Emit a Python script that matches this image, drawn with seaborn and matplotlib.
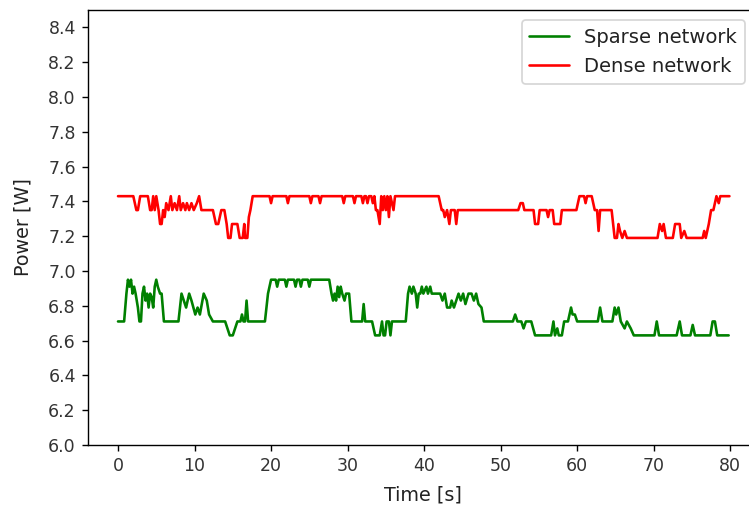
import matplotlib
matplotlib.use("Agg")
import matplotlib.pyplot as plt
import seaborn as sns
import pandas as pd

# ---- data (breakpoints) ----
dense_t = [0, 2.0, 2.4, 2.6, 2.9, 3.9, 4.2, 4.4, 4.6, 4.8, 5.0, 5.3, 5.5, 5.7, 5.9, 6.1, 6.3, 6.6,
           6.9, 7.1, 7.4, 7.7, 8.0, 8.2, 8.5, 8.8, 9.0, 9.3, 9.6, 9.9, 10.3, 10.6, 10.9, 12.4, 12.8,
           13.1, 13.5, 13.9, 14.2, 14.4, 14.7, 14.9, 15.6, 15.9, 16.3, 16.5, 16.6, 16.9, 17.1, 17.3,
           17.6, 19.8, 20.0, 20.2, 22.0, 22.2, 22.4, 25.0, 25.2, 25.4, 26.2, 26.4, 26.6, 29.3, 29.5,
           29.7, 30.7, 30.9, 31.1, 31.8, 32.0, 32.2, 32.4, 32.6, 32.8, 33.1, 33.3, 33.5, 33.7, 33.9,
           34.2, 34.4, 34.6, 34.8, 35.0, 35.2, 35.4, 35.6, 36.0, 36.2, 41.9, 42.3, 42.5, 42.7, 43.0,
           43.3, 43.5, 44.0, 44.2, 44.4, 52.3, 52.6, 52.9, 53.1, 54.3, 54.5, 54.9, 55.1, 56.0, 56.2,
           56.4, 56.8, 57.0, 57.8, 58.0, 59.9, 60.3, 60.9, 61.1, 61.3, 61.9, 62.1, 62.3, 62.6, 62.8,
           63.0, 64.5, 64.9, 65.2, 65.4, 65.6, 65.9, 66.2, 66.5, 70.5, 70.8, 71.1, 71.3, 71.6, 72.5,
           72.8, 73.4, 73.6, 74.0, 74.3, 76.4, 76.6, 76.8, 77.2, 77.5, 77.8, 78.2, 78.5, 78.7, 79.9]
dense_w = [7.43, 7.43, 7.35, 7.35, 7.43, 7.43, 7.35, 7.35, 7.43, 7.35, 7.43, 7.35, 7.27, 7.27, 7.35,
           7.31, 7.39, 7.35, 7.43, 7.35, 7.39, 7.35, 7.43, 7.35, 7.39, 7.35, 7.39, 7.35, 7.39, 7.35,
           7.39, 7.43, 7.35, 7.35, 7.27, 7.27, 7.35, 7.35, 7.27, 7.19, 7.19, 7.27, 7.27, 7.19, 7.19,
           7.27, 7.19, 7.19, 7.31, 7.35, 7.43, 7.43, 7.39, 7.43, 7.43, 7.39, 7.43, 7.43, 7.39, 7.43,
           7.43, 7.39, 7.43, 7.43, 7.39, 7.43, 7.43, 7.39, 7.43, 7.43, 7.39, 7.43, 7.43, 7.39, 7.43,
           7.43, 7.39, 7.43, 7.35, 7.35, 7.27, 7.43, 7.35, 7.43, 7.35, 7.43, 7.31, 7.43, 7.35, 7.43,
           7.43, 7.35, 7.35, 7.31, 7.35, 7.27, 7.35, 7.35, 7.27, 7.35, 7.35, 7.39, 7.39, 7.35, 7.35,
           7.27, 7.27, 7.35, 7.35, 7.31, 7.35, 7.35, 7.27, 7.27, 7.35, 7.35, 7.43, 7.43, 7.39, 7.43,
           7.43, 7.39, 7.35, 7.35, 7.23, 7.35, 7.35, 7.19, 7.19, 7.27, 7.23, 7.19, 7.23, 7.19, 7.19,
           7.27, 7.23, 7.27, 7.19, 7.19, 7.27, 7.27, 7.19, 7.23, 7.19, 7.19, 7.23, 7.19, 7.27, 7.35,
           7.35, 7.43, 7.39, 7.43, 7.43]

sparse_t = [0, 0.8, 1.1, 1.3, 1.5, 1.7, 1.9, 2.1, 2.3, 2.6, 2.8, 3.0, 3.2, 3.4, 3.6, 3.8, 4.0, 4.2,
            4.4, 4.6, 4.8, 5.0, 5.2, 5.5, 5.7, 6.0, 7.9, 8.3, 8.6, 8.9, 9.3, 9.6, 10.1, 10.4, 10.7,
            11.2, 11.6, 11.9, 12.4, 14.0, 14.3, 14.6, 15.0, 15.3, 15.6, 16.0, 16.2, 16.4, 16.6, 16.8,
            17.0, 19.2, 19.6, 20.0, 20.6, 20.8, 21.0, 21.8, 22.0, 22.2, 23.0, 23.2, 23.4, 23.7, 23.9,
            24.1, 24.8, 25.0, 25.2, 27.6, 27.9, 28.1, 28.3, 28.5, 28.7, 28.9, 29.1, 29.3, 29.6, 29.8,
            30.2, 30.5, 31.9, 32.1, 32.3, 33.2, 33.6, 34.2, 34.5, 34.7, 34.9, 35.1, 35.4, 35.6, 35.8,
            37.6, 37.9, 38.1, 38.4, 38.6, 38.9, 39.1, 39.3, 39.5, 39.7, 39.9, 40.3, 40.5, 40.8, 41.0,
            42.1, 42.4, 42.7, 43.0, 43.4, 43.6, 43.9, 44.2, 44.5, 44.8, 45.1, 45.4, 45.8, 46.2, 46.5,
            46.8, 47.1, 47.5, 47.8, 51.6, 51.9, 52.2, 52.7, 53.0, 53.3, 54.0, 54.5, 56.6, 56.9, 57.1,
            57.4, 57.6, 58.0, 58.3, 58.8, 59.2, 59.4, 59.7, 60.0, 62.7, 63.0, 63.3, 64.6, 64.9, 65.1,
            65.4, 65.7, 66.2, 66.5, 67.0, 67.4, 70.1, 70.4, 70.7, 73.0, 73.4, 73.7, 74.8, 75.1, 75.4,
            77.4, 77.7, 78.0, 78.3, 79.8]
sparse_w = [6.71, 6.71, 6.87, 6.95, 6.91, 6.95, 6.87, 6.91, 6.87, 6.79, 6.71, 6.71, 6.87, 6.91, 6.83,
            6.87, 6.79, 6.87, 6.85, 6.79, 6.91, 6.95, 6.91, 6.87, 6.87, 6.71, 6.71, 6.87, 6.83, 6.79,
            6.87, 6.83, 6.75, 6.79, 6.75, 6.87, 6.83, 6.75, 6.71, 6.71, 6.67, 6.63, 6.63, 6.67, 6.71,
            6.71, 6.75, 6.71, 6.71, 6.83, 6.71, 6.71, 6.87, 6.95, 6.95, 6.91, 6.95, 6.95, 6.91, 6.95,
            6.95, 6.91, 6.95, 6.95, 6.91, 6.95, 6.95, 6.91, 6.95, 6.95, 6.87, 6.83, 6.87, 6.83, 6.91,
            6.85, 6.91, 6.87, 6.83, 6.87, 6.87, 6.71, 6.71, 6.81, 6.71, 6.71, 6.63, 6.63, 6.71, 6.63,
            6.63, 6.71, 6.71, 6.63, 6.71, 6.71, 6.87, 6.91, 6.87, 6.91, 6.87, 6.79, 6.87, 6.87, 6.91,
            6.87, 6.91, 6.87, 6.91, 6.87, 6.87, 6.83, 6.87, 6.79, 6.79, 6.83, 6.79, 6.83, 6.87, 6.83,
            6.87, 6.81, 6.87, 6.87, 6.83, 6.87, 6.81, 6.79, 6.71, 6.71, 6.75, 6.71, 6.71, 6.67, 6.71,
            6.71, 6.63, 6.63, 6.71, 6.63, 6.67, 6.63, 6.63, 6.71, 6.71, 6.79, 6.75, 6.75, 6.71, 6.71,
            6.79, 6.71, 6.71, 6.79, 6.75, 6.79, 6.71, 6.67, 6.71, 6.67, 6.63, 6.63, 6.71, 6.63, 6.63,
            6.71, 6.63, 6.63, 6.69, 6.63, 6.63, 6.71, 6.71, 6.63, 6.63]

series_labels = ["Sparse network", "Dense network"]
x_ticks = [0, 10, 20, 30, 40, 50, 60, 70, 80]
y_ticks = [6.0, 6.2, 6.4, 6.6, 6.8, 7.0, 7.2, 7.4, 7.6, 7.8, 8.0, 8.2, 8.4]

sparse_df = pd.DataFrame({"t": sparse_t, "w": sparse_w})
dense_df = pd.DataFrame({"t": dense_t, "w": dense_w})

sns.set_style("ticks")
plt.rcParams["font.family"] = ["DejaVu Sans"]
plt.rcParams["axes.edgecolor"] = "black"
plt.rcParams["text.color"] = "#222222"
plt.rcParams["axes.labelcolor"] = "#222222"
plt.rcParams["xtick.color"] = "black"
plt.rcParams["ytick.color"] = "black"
plt.rcParams["xtick.labelcolor"] = "#333333"
plt.rcParams["ytick.labelcolor"] = "#333333"

W, H, DPI = 749, 508, 125
fig = plt.figure(figsize=(W / DPI, H / DPI), dpi=DPI)
left, right, top, bottom = 88, 757, 10, 445
ax = fig.add_axes([left / W, 1 - bottom / H, (right - left) / W, (bottom - top) / H])

sns.lineplot(data=sparse_df, x="t", y="w", ax=ax, color="green", label=series_labels[0],
             estimator=None, sort=False, linewidth=1.5)
sns.lineplot(data=dense_df, x="t", y="w", ax=ax, color="red", label=series_labels[1],
             estimator=None, sort=False, linewidth=1.5)

ax.set_xlim(-3.92, 83.5)
ax.set_ylim(6.0, 8.5)
ax.set_xticks(x_ticks)
ax.set_yticks(y_ticks)
ax.set_yticklabels([f"{v:.1f}" for v in y_ticks])
ax.tick_params(labelsize=10, length=3.5, width=0.8)
ax.set_xlabel("Time [s]", fontsize=11, labelpad=6)
ax.set_ylabel("Power [W]", fontsize=11, labelpad=9)
for s in ax.spines.values():
    s.set_linewidth(0.8)
ax.legend(loc="upper right", fontsize=11.3, frameon=True, bbox_to_anchor=(745 / W, 1 - 20 / H),
          bbox_transform=fig.transFigure, borderaxespad=0)

fig.savefig("out.png", dpi=DPI)
